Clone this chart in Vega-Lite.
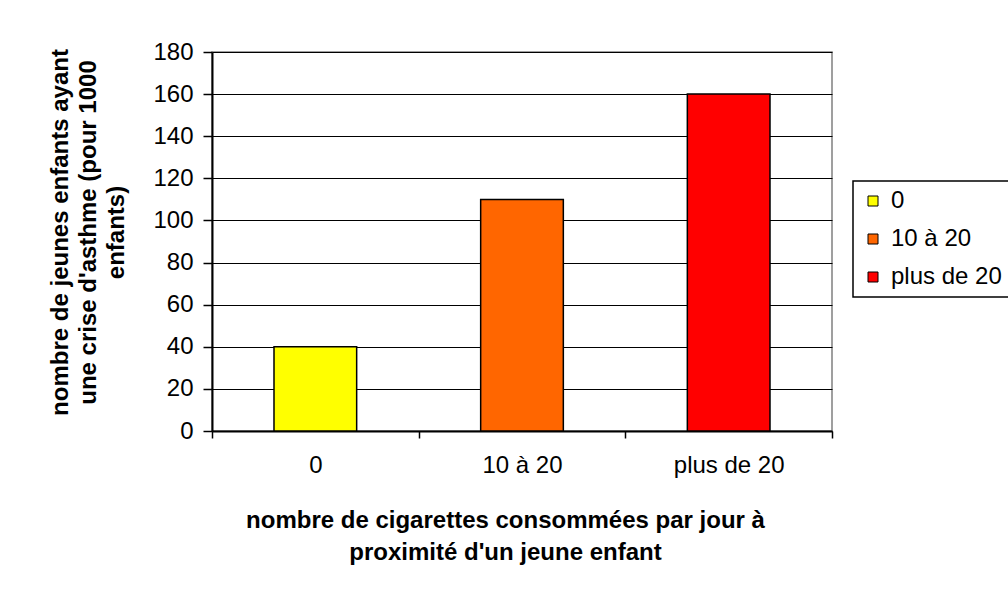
{
  "$schema": "https://vega.github.io/schema/vega-lite/v6.json",
  "autosize": "none",
  "width": 620,
  "height": 379,
  "padding": {"left": 212, "top": 52, "right": 176, "bottom": 158},
  "background": "white",
  "data": {
    "values": [
      {"cigarettes": "0", "enfants": 40},
      {"cigarettes": "10 à 20", "enfants": 110},
      {"cigarettes": "plus de 20", "enfants": 160}
    ]
  },
  "mark": {"type": "bar", "width": {"band": 0.4}, "stroke": "black", "strokeWidth": 1.5},
  "encoding": {
    "x": {
      "field": "cigarettes",
      "type": "nominal",
      "sort": null,
      "scale": {"paddingInner": 0, "paddingOuter": 0},
      "axis": {
        "title": ["nombre de cigarettes consommées par jour à", "proximité d'un jeune enfant"],
        "titleLineHeight": 32,
        "titlePadding": 31,
        "titleX": 293,
        "labelAngle": 0,
        "labelPadding": 15,
        "tickSize": 7,
        "tickBand": "extent",
        "grid": false
      }
    },
    "y": {
      "field": "enfants",
      "type": "quantitative",
      "scale": {"domain": [0, 180], "nice": false},
      "axis": {
        "title": ["nombre de jeunes enfants ayant", "une crise d'asthme (pour 1000", "enfants)"],
        "titleLineHeight": 28,
        "titlePadding": 24,
        "titleY": 180,
        "values": [0, 20, 40, 60, 80, 100, 120, 140, 160, 180],
        "tickSize": 9,
        "labelPadding": 10,
        "grid": true
      }
    },
    "fill": {
      "field": "cigarettes",
      "type": "nominal",
      "sort": null,
      "scale": {"domain": ["0", "10 à 20", "plus de 20"], "range": ["#FFFF00", "#FF6600", "#FF0000"]},
      "legend": {
        "title": null,
        "orient": "none",
        "legendX": 641,
        "legendY": 129,
        "symbolType": "square",
        "symbolSize": 100,
        "symbolStrokeColor": "black",
        "symbolStrokeWidth": 1,
        "labelFontSize": 24,
        "labelOffset": 6,
        "rowPadding": 14,
        "padding": 8,
        "strokeColor": "black"
      }
    }
  },
  "config": {
    "font": "Liberation Sans",
    "view": {"stroke": "#808080", "strokeWidth": 1.5},
    "axis": {
      "labelFont": "Liberation Sans",
      "labelFontSize": 24,
      "labelColor": "black",
      "titleFont": "Liberation Sans",
      "titleFontSize": 24,
      "titleFontWeight": "bold",
      "titleColor": "black",
      "domainColor": "black",
      "domainWidth": 2,
      "tickColor": "black",
      "tickWidth": 1.5,
      "gridColor": "black",
      "gridWidth": 1,
      "gridOpacity": 1
    },
    "legend": {
      "labelFont": "Liberation Sans",
      "labelColor": "black",
      "strokeWidth": 1.5
    }
  }
}
